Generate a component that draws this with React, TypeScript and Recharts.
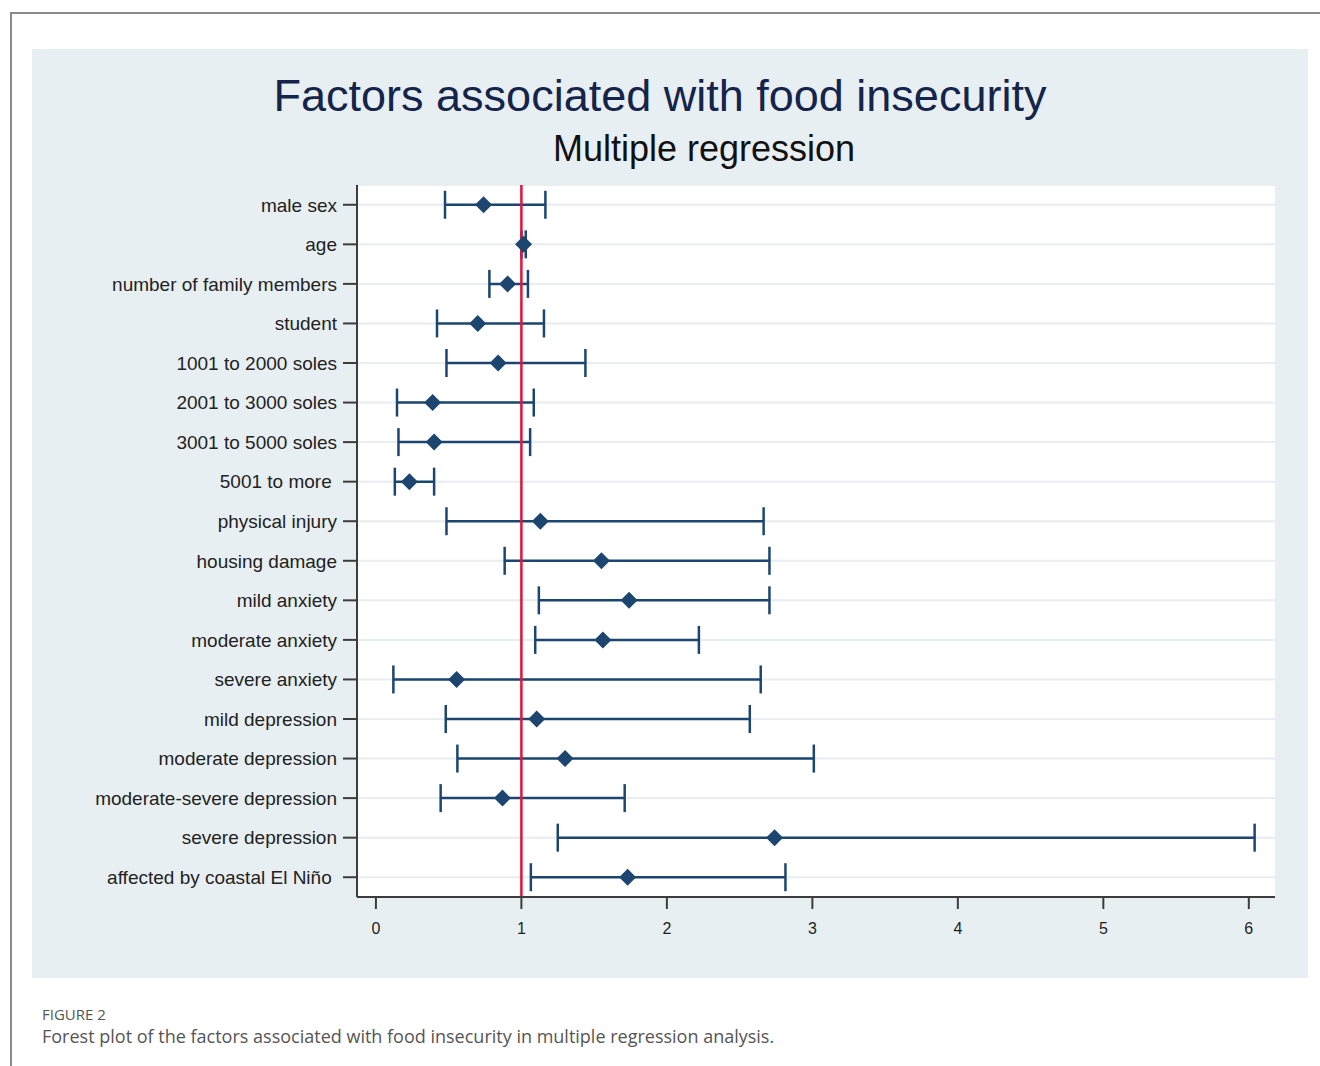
import {
  ScatterChart, Scatter, XAxis, YAxis, CartesianGrid, ErrorBar, ReferenceLine,
} from 'recharts';

// factor labels, top to bottom
const factors = [
  'male sex',
  'age',
  'number of family members',
  'student',
  '1001 to 2000 soles',
  '2001 to 3000 soles',
  '3001 to 5000 soles',
  '5001 to more\u00a0',
  'physical injury',
  'housing damage',
  'mild anxiety',
  'moderate anxiety',
  'severe anxiety',
  'mild depression',
  'moderate depression',
  'moderate-severe depression',
  'severe depression',
  'affected by coastal El Niño\u00a0',
];

// point estimates and 95% CI bounds
const estimate = [0.74, 1.015, 0.905, 0.70, 0.84, 0.39, 0.40, 0.23, 1.13, 1.55, 1.74, 1.56, 0.555, 1.105, 1.30, 0.87, 2.74, 1.73];
const lower = [0.475, 1.0, 0.78, 0.42, 0.485, 0.145, 0.155, 0.13, 0.485, 0.885, 1.12, 1.095, 0.12, 0.48, 0.56, 0.445, 1.25, 1.065];
const upper = [1.165, 1.03, 1.045, 1.155, 1.44, 1.085, 1.06, 0.40, 2.665, 2.705, 2.705, 2.22, 2.645, 2.57, 3.01, 1.71, 6.04, 2.815];

const xTicks = [0, 1, 2, 3, 4, 5, 6];

const rows = factors.map((name, i) => ({
  name,
  idx: i,
  or: estimate[i],
  err: [estimate[i] - lower[i], upper[i] - estimate[i]],
}));

const NAVY = '#1c4670';
const AXIS = '#3c3c3c';

function Diamond(props: any) {
  const { cx, cy } = props;
  const r = 8.5;
  return (
    <polygon
      points={`${cx},${cy - r} ${cx + r},${cy} ${cx},${cy + r} ${cx - r},${cy}`}
      fill={NAVY}
    />
  );
}

const sans = '"Liberation Sans", Arial, Helvetica, sans-serif';

export default function App() {
  return (
    <div style={{ position: 'relative', width: 1320, height: 1066, background: '#fff', overflow: 'hidden' }}>
      <style>{'body{margin:0}'}</style>
      {/* page frame */}
      <div style={{ position: 'absolute', left: 10, top: 12, width: 1320, height: 1100, borderTop: '2px solid #8a8a8a', borderLeft: '2px solid #8a8a8a' }} />
      {/* graph panel */}
      <div style={{ position: 'absolute', left: 32, top: 49, width: 1276, height: 929, background: '#e8eff2' }} />

      <div style={{ position: 'absolute', left: 0, width: 1320, top: 70, textAlign: 'center', fontFamily: sans, fontSize: 45, color: '#14244a' }}>
        Factors associated with food insecurity
      </div>
      <div style={{ position: 'absolute', left: 88, width: 1232, top: 128, textAlign: 'center', fontFamily: sans, fontSize: 36, color: '#111' }}>
        Multiple regression
      </div>

      <div style={{ position: 'absolute', left: 0, top: 0 }}>
        <ScatterChart width={1320} height={1066} margin={{ top: 185, right: 45, bottom: 142, left: 16 }}>
          <CartesianGrid horizontal vertical={false} fill="#ffffff" stroke="#e8edf0" strokeWidth={2} />
          <XAxis
            type="number"
            dataKey="or"
            domain={[-0.13, 6.18]}
            ticks={xTicks}
            allowDataOverflow
            height={27}
            tickSize={12}
            tickMargin={14}
            tick={{ fontSize: 16, fill: '#1e1e1e', fontFamily: sans }}
            axisLine={{ stroke: AXIS, strokeWidth: 2 }}
            tickLine={{ stroke: AXIS, strokeWidth: 2 }}
          />
          <YAxis
            type="number"
            dataKey="idx"
            domain={[-0.5, 17.5]}
            ticks={factors.map((_, i) => i)}
            interval={0}
            reversed
            width={341}
            tickSize={14}
            tickMargin={6}
            tickFormatter={(v: number) => factors[v] ?? ''}
            tick={{ fontSize: 19, fill: '#222', fontFamily: sans }}
            axisLine={{ stroke: AXIS, strokeWidth: 2 }}
            tickLine={{ stroke: AXIS, strokeWidth: 2 }}
          />
          <Scatter data={rows} shape={<Diamond />} isAnimationActive={false}>
            <ErrorBar dataKey="err" direction="x" width={14} stroke={NAVY} strokeWidth={2.5} isAnimationActive={false} />
          </Scatter>
          <ReferenceLine x={1} stroke="#e0143c" strokeWidth={2.5} />
        </ScatterChart>
      </div>

      <div style={{ position: 'absolute', left: 42, top: 1004, fontFamily: '"Open Sans", sans-serif', fontSize: 15, color: '#555' }}>
        FIGURE 2
      </div>
      <div style={{ position: 'absolute', left: 42, top: 1024, fontFamily: '"Open Sans", sans-serif', fontSize: 18, color: '#555' }}>
        Forest plot of the factors associated with food insecurity in multiple regression analysis.
      </div>
    </div>
  );
}
